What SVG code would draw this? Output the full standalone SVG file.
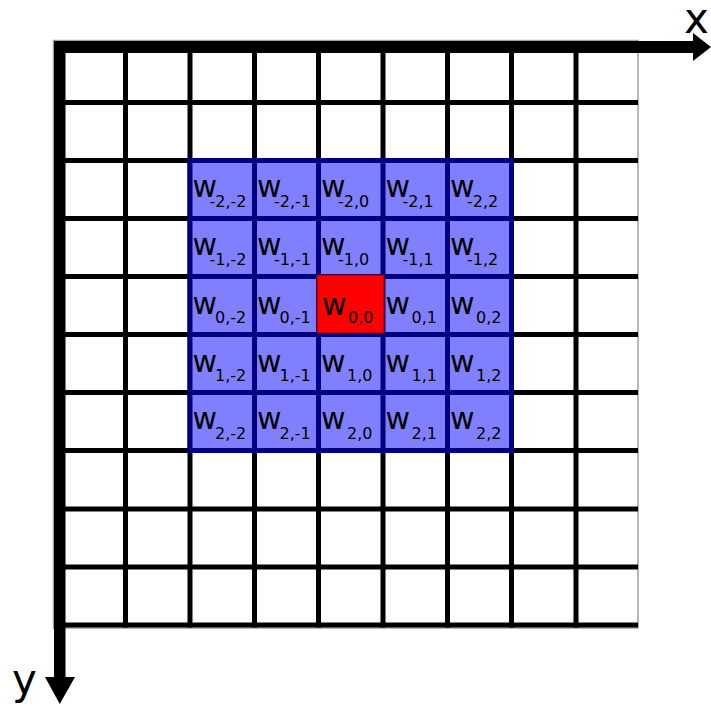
<svg xmlns="http://www.w3.org/2000/svg" width="711" height="706" viewBox="0 0 711 706">
<style>
.grid{stroke:#000;stroke-width:5;fill:none}
.nv{stroke:#000080;stroke-width:5;fill:none}
.w{font-family:"DejaVu Sans","Verdana",sans-serif;font-size:30px;fill:#000}
.s{font-family:"DejaVu Sans","Verdana",sans-serif;font-size:16px;fill:#000}
.ax{font-family:"DejaVu Sans",sans-serif;font-size:42px;fill:#000}
</style>
<rect x="0" y="0" width="711" height="706" fill="#fff"/>
<rect x="53.5" y="40.5" width="584.5" height="587.5" fill="#fff" stroke="#a0a0a0" stroke-width="1.5"/>
<g id="grid" class="grid">
<path d="M125.5 47V627.5M190 47V627.5M254.5 47V627.5M318.5 47V627.5M383 47V627.5M447.5 47V627.5M511.5 47V627.5M576 47V627.5"/>
<path d="M59.5 102.5H638M59.5 160.5H638M59.5 218.5H638M59.5 276.5H638M59.5 334.5H638M59.5 392.5H638M59.5 450.5H638M59.5 509H638M59.5 567H638M59.5 625H638"/>
</g>
<g id="kernel">
<rect x="190" y="160.5" width="321.5" height="290" fill="#8080ff"/>
<path class="nv" d="M190 158V453M254.5 158V453M318.5 158V453M383 158V453M447.5 158V453M511.5 158V453M187.5 160.5H514M187.5 218.5H514M187.5 276.5H514M187.5 334.5H514M187.5 392.5H514M187.5 450.5H514"/>
<rect x="317" y="275" width="67" height="58" fill="#ff0000" stroke="#800000" stroke-width="1"/>
</g>
<g id="labels">
<g id="r-2">
<text class="w" x="192.5" y="197">w</text><text class="s" x="209.5" y="207">-2,-2</text>
<text class="w" x="257" y="197">w</text><text class="s" x="274" y="207">-2,-1</text>
<text class="w" x="321" y="197">w</text><text class="s" x="338" y="207">-2,0</text>
<text class="w" x="385.5" y="197">w</text><text class="s" x="402.5" y="207">-2,1</text>
<text class="w" x="450" y="197">w</text><text class="s" x="467" y="207">-2,2</text>
</g>
<g id="r-1">
<text class="w" x="192.5" y="255">w</text><text class="s" x="209.5" y="265">-1,-2</text>
<text class="w" x="257" y="255">w</text><text class="s" x="274" y="265">-1,-1</text>
<text class="w" x="321" y="255">w</text><text class="s" x="338" y="265">-1,0</text>
<text class="w" x="385.5" y="255">w</text><text class="s" x="402.5" y="265">-1,1</text>
<text class="w" x="450" y="255">w</text><text class="s" x="467" y="265">-1,2</text>
</g>
<g id="r0">
<text class="w" x="192.5" y="314">w</text><text class="s" x="215" y="323">0,-2</text>
<text class="w" x="257" y="314">w</text><text class="s" x="279.5" y="323">0,-1</text>
<text class="w" x="322" y="315">w</text><text class="s" x="348" y="323">0,0</text>
<text class="w" x="385.5" y="314">w</text><text class="s" x="411.5" y="323">0,1</text>
<text class="w" x="450" y="314">w</text><text class="s" x="476" y="323">0,2</text>
</g>
<g id="r1">
<text class="w" x="192.5" y="372">w</text><text class="s" x="215" y="381">1,-2</text>
<text class="w" x="257" y="372">w</text><text class="s" x="279.5" y="381">1,-1</text>
<text class="w" x="321" y="372">w</text><text class="s" x="347" y="381">1,0</text>
<text class="w" x="385.5" y="372">w</text><text class="s" x="411.5" y="381">1,1</text>
<text class="w" x="450" y="372">w</text><text class="s" x="476" y="381">1,2</text>
</g>
<g id="r2">
<text class="w" x="192.5" y="429">w</text><text class="s" x="215" y="439">2,-2</text>
<text class="w" x="257" y="429">w</text><text class="s" x="279.5" y="439">2,-1</text>
<text class="w" x="321" y="429">w</text><text class="s" x="347" y="439">2,0</text>
<text class="w" x="385.5" y="429">w</text><text class="s" x="411.5" y="439">2,1</text>
<text class="w" x="450" y="429">w</text><text class="s" x="476" y="439">2,2</text>
</g>
</g>
<g id="axes" fill="#000">
<rect x="54" y="41" width="640" height="12"/>
<polygon points="693,33 711,47 693,61"/>
<rect x="54" y="41" width="11.5" height="637"/>
<polygon points="45,677 75,677 59.75,704"/>
<text class="ax" x="684" y="33">x</text>
<text class="ax" x="12" y="694">y</text>
</g>
</svg>
